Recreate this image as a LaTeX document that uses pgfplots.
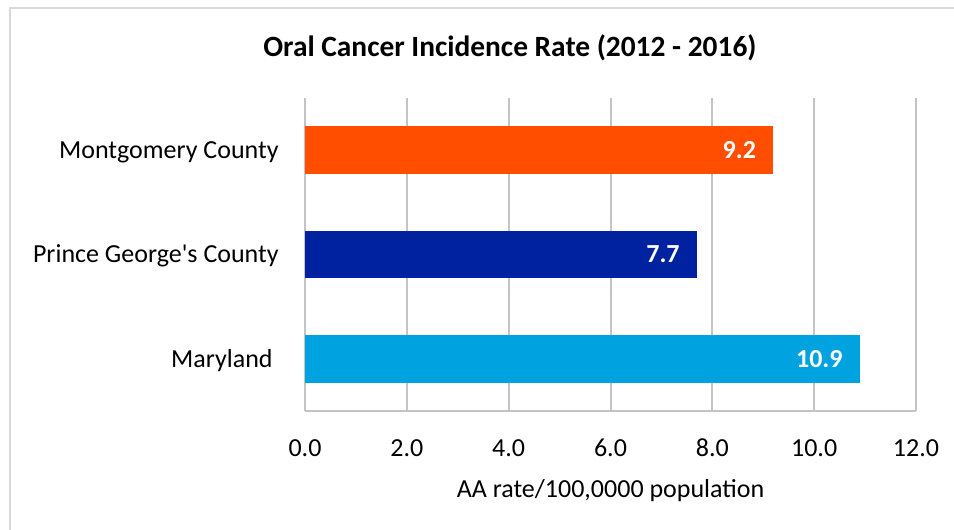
\documentclass[border=0pt]{standalone}
\usepackage{fontspec}
\setmainfont{Carlito}
\usepackage{pgfplots}
\pgfplotsset{compat=1.18}

\definecolor{mcorange}{RGB}{255,78,0}
\definecolor{pgblue}{RGB}{0,34,160}
\definecolor{mdblue}{RGB}{0,162,224}
\definecolor{gridgray}{RGB}{196,196,196}
\definecolor{framegray}{RGB}{217,217,217}

\begin{document}
\begin{tikzpicture}[x=1pt,y=1pt]
\useasboundingbox (0,0) rectangle (477,265);
% chart frame (only top and left edges are visible)
\draw[framegray, line width=1pt] (5,0) -- (5,260.8) -- (477,260.8);
\begin{axis}[
    at={(152.5pt,59.5pt)}, anchor=south west,
    scale only axis,
    width=305.5pt, height=156.5pt,
    xbar, bar width=0.46, bar shift=0pt,
    xmin=0, xmax=12,
    ymin=-0.5, ymax=2.5,
    xtick={0,2,...,12},
    ytick={0,1,2},
    yticklabels={Maryland\kern3pt, Prince George\textquotesingle s County, Montgomery County},
    major tick length=0pt,
    axis x line*=bottom, axis y line*=left,
    axis line style={gridgray, line width=1pt, -},
    xmajorgrids, grid style={gridgray, line width=1pt},
    font=\fontsize{13}{15.6}\selectfont,
    /pgf/number format/.cd, fixed, fixed zerofill, precision=1, assume math mode=true,
    /pgfplots/.cd,
    xticklabel style={anchor=base, inner sep=0pt, yshift=-23pt},
    yticklabel style={anchor=base east, inner sep=0pt, xshift=-13pt, yshift=-4.2pt},
    xlabel={AA rate/100,0000 population},
    xlabel style={at={(axis description cs:0.5,-0.2748)}, anchor=base, inner sep=0pt},
    title={\bfseries Oral Cancer Incidence Rate (2012 - 2016)},
    title style={at={(axis description cs:0.3355,1.16)}, anchor=center, inner sep=0pt,
        yshift=-6pt, font=\fontsize{14.7}{17}\selectfont},
    nodes near coords,
    nodes near coords style={anchor=east, xshift=-8.5pt, white, inner sep=0pt,
        font=\fontsize{13}{15.6}\selectfont\bfseries},
]
\addplot[draw=none, fill=mdblue] coordinates {(10.9,0)};
\addplot[draw=none, fill=pgblue] coordinates {(7.7,1)};
\addplot[draw=none, fill=mcorange] coordinates {(9.2,2)};
\end{axis}
\end{tikzpicture}
\end{document}
